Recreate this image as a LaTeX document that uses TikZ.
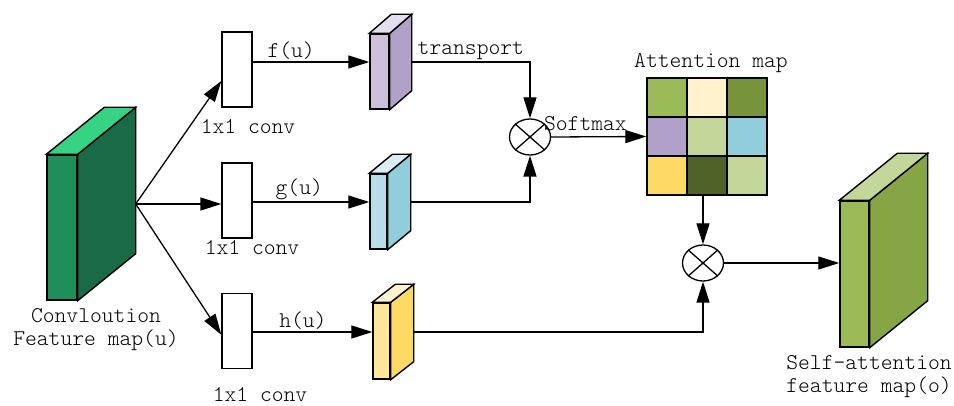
\documentclass[tikz,border=0pt]{standalone}
\usetikzlibrary{positioning, arrows.meta, shapes.geometric, calc}

\definecolor{featfront}{HTML}{1F8F5A}
\definecolor{featside}{HTML}{196B45}
\definecolor{feattop}{HTML}{36D384}
\definecolor{ffront}{HTML}{CCC0DA}
\definecolor{fside}{HTML}{B1A0C7}
\definecolor{ftop}{HTML}{E4DFEC}
\definecolor{gfront}{HTML}{B7DEE8}
\definecolor{gside}{HTML}{92CDDC}
\definecolor{gtop}{HTML}{DAEEF3}
\definecolor{hfront}{HTML}{FFE699}
\definecolor{hside}{HTML}{FFD966}
\definecolor{htop}{HTML}{FFF2CC}
\definecolor{ofront}{HTML}{9BBB59}
\definecolor{oside}{HTML}{86A544}
\definecolor{otop}{HTML}{C4D79B}
\definecolor{olive}{HTML}{77933C}
\definecolor{darkolive}{HTML}{4F6228}

% front face is a node, side and top faces hang off its anchors
% #1 name, #2 centre, #3 width, #4 height, #5 depth, #6-#8 front/side/top colours
\newcommand{\featmap}[8]{%
  \node[slab, fill=#6, minimum width=#3, minimum height=#4] (#1) at (#2) {};
  \filldraw[slab, fill=#7] (#1.north east) -- ++(#5) -- ($(#1.south east)+(#5)$) -- (#1.south east) -- cycle;
  \filldraw[slab, fill=#8] (#1.north west) -- ++(#5) -- ($(#1.north east)+(#5)$) -- (#1.north east) -- cycle;
  \coordinate (#1-c) at ($(#1.center)+0.5*(#5)$);
  \coordinate (#1-br) at ($(#1.east)+(#5)$);
  \coordinate (#1-in) at (#1.west |- #1-c);
  \coordinate (#1-out) at (#1-br |- #1-c);
}

\begin{document}
\begin{tikzpicture}[x=1pt, y=-1pt,
    slab/.style={draw, line width=1.4pt, inner sep=0pt},
    conv/.style={draw, fill=white, line width=1.3pt, minimum width=30pt, minimum height=75pt, inner sep=0pt},
    cell/.style={draw, line width=1.4pt, minimum width=40pt, minimum height=39pt, inner sep=0pt},
    mul/.style={draw, ellipse, line width=1.3pt, minimum width=41pt, minimum height=36pt, inner sep=0pt},
    arr/.style={-{Triangle[length=21pt, width=13pt]}, line width=1.3pt},
    lbl/.style={font=\ttfamily\fontseries{l}\fontsize{22.5}{23}\selectfont, inner sep=2pt}]

  \useasboundingbox (0,0) rectangle (954,406);

  % feature maps
  \featmap{feat}{62,227.5}{30pt}{145pt}{58,-47}{featfront}{featside}{feattop}
  \featmap{fmap}{379.5,71.5}{19pt}{75pt}{22,-19}{ffront}{fside}{ftop}
  \featmap{gmap}{378.5,211.5}{17pt}{75pt}{23,-19}{gfront}{gside}{gtop}
  \featmap{hmap}{381.5,341}{17pt}{76pt}{23,-18}{hfront}{hside}{htop}
  \featmap{selfatt}{854.5,274}{29pt}{146pt}{58,-47}{ofront}{oside}{otop}

  \node[lbl, align=center] (feat-lbl) at (96,330) {Convloution\\Feature map(u)};
  \node[lbl, align=center] (selfatt-lbl) at (869,377) {Self-attention\\feature map(o)};

  % 1x1 convolutions
  \node[conv] (conv1) at (237,69.5) {};
  \node[conv] (conv2) at (237,200.5) {};
  \node[conv] (conv3) at (237,331) {};
  \node[lbl] (conv1-lbl) at (248,127) {1x1 conv};
  \node[lbl] (conv2-lbl) at (252,248) {1x1 conv};
  \node[lbl] (conv3-lbl) at (260,395) {1x1 conv};

  % attention map
  \foreach \row/\col/\clr in {1/1/ofront, 1/2/htop, 1/3/olive,
                              2/1/fside, 2/2/otop, 2/3/gside,
                              3/1/hside, 3/2/darkolive, 3/3/otop}
    \node[cell, fill=\clr] (a\row\col) at ({627+40*\col}, {58.5+39*\row}) {};
  \node[lbl] (att-lbl) at (711,63) {Attention map};

  % products
  \node[mul] (mul1) at (530,137) {};
  \node[mul] (mul2) at (703,263) {};
  \foreach \m in {mul1, mul2}
    \draw[line width=1.3pt] (\m.north west) -- (\m.south east) (\m.north east) -- (\m.south west);

  \draw[arr] (feat-out) -- ($(conv1.south west)!0.35!(conv1.north west)$);
  \draw[arr] (feat-out) -- (conv2.west |- feat-out);
  \draw[arr] (feat-out) -- ($(conv3.south west)!0.45!(conv3.north west)$);

  \draw[arr] (conv1.east |- fmap-in) -- node[lbl, above, pos=0.33] {f(u)} (fmap-in);
  \draw[arr] (conv2.east |- gmap-in) -- node[lbl, above, pos=0.4] {g(u)} (gmap-in);
  \draw[arr] (conv3.east |- hmap-in) -- node[lbl, above, pos=0.42] {h(u)} (hmap-in);

  \draw[arr] (fmap-out) -- node[lbl, above] {transport} (mul1 |- fmap-out) -- (mul1.north);
  \draw[arr] (gmap-out) -- (mul1 |- gmap-out) -- (mul1.south);
  \draw[arr] (mul1.east) -- node[lbl, above=3pt, pos=0.36] {Softmax} (a21.west);

  \draw[arr] (mul2 |- a32.south) -- (mul2.north);
  \draw[arr] (hmap-out) -- (mul2 |- hmap-out) -- (mul2.south);
  \draw[arr] (mul2.east) -- (mul2.east -| selfatt.west);
\end{tikzpicture}
\end{document}
